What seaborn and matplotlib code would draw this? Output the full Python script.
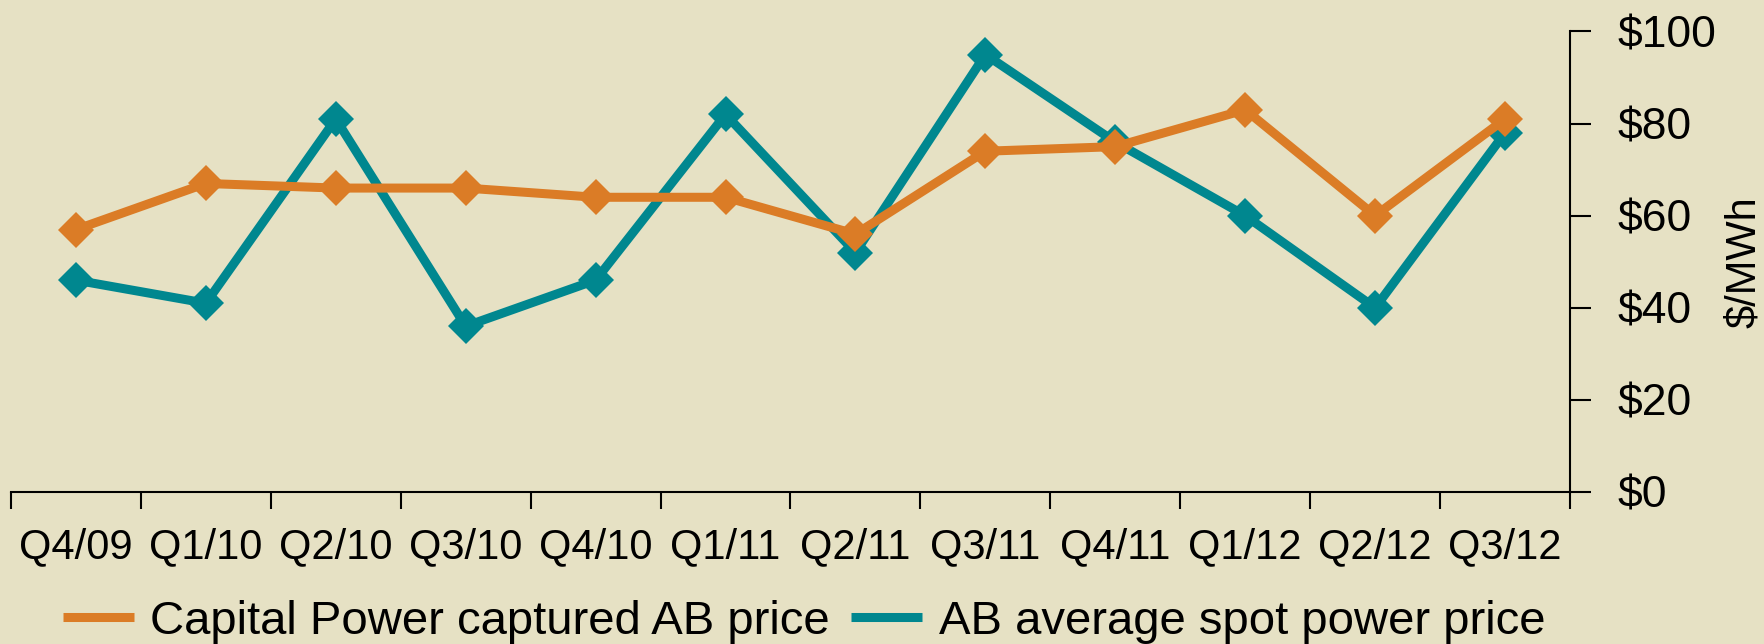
import pandas as pd
import numpy as np
import matplotlib
matplotlib.use("Agg")
import matplotlib.pyplot as plt
from matplotlib.lines import Line2D
from matplotlib.ticker import FixedLocator, FuncFormatter
import seaborn as sns

# data ($/MWh)
quarters = ["Q4/09", "Q1/10", "Q2/10", "Q3/10", "Q4/10", "Q1/11",
            "Q2/11", "Q3/11", "Q4/11", "Q1/12", "Q2/12", "Q3/12"]
captured_price = [57, 67, 66, 66, 64, 64, 56, 74, 75, 83, 60, 81]
spot_price = [46, 41, 81, 36, 46, 82, 52, 95, 76, 60, 40, 78]
series_names = ["Capital Power captured AB price", "AB average spot power price"]
y_ticks = [0, 20, 40, 60, 80, 100]

bg = "#E6E1C4"
orange = "#DB7C26"
teal = "#00878F"

sns.set_style("white")
plt.rcParams["font.family"] = ["Liberation Sans", "DejaVu Sans"]
plt.rcParams["text.color"] = "black"
plt.rcParams["xtick.color"] = "black"
plt.rcParams["ytick.color"] = "black"
plt.rcParams["axes.labelcolor"] = "black"

df = pd.DataFrame({
    "quarter": quarters * 2,
    "price": captured_price + spot_price,
    "series": [series_names[0]] * len(quarters) + [series_names[1]] * len(quarters),
})

fig = plt.figure(figsize=(17.65, 6.44), dpi=100, facecolor=bg)
ax = fig.add_axes([11 / 1765, 1 - 492 / 644, (1570 - 11) / 1765, (492 - 31.5) / 644])
ax.set_facecolor(bg)

# teal first so the orange line sits on top
sns.lineplot(data=df, x="quarter", y="price", hue="series",
             hue_order=[series_names[1], series_names[0]],
             palette={series_names[0]: orange, series_names[1]: teal},
             marker="D", markersize=18, markeredgewidth=0,
             linewidth=6.5, sort=False, legend=False, ax=ax)

ax.set_xlim(-0.5, len(quarters) - 0.5)
ax.set_ylim(0, 100)

# x axis: boundary ticks, labels centred on categories
ax.xaxis.set_major_locator(FixedLocator(np.arange(-0.5, len(quarters), 1.0)))
ax.xaxis.set_major_formatter(FuncFormatter(lambda v, p: ""))
ax.set_xticks(np.arange(len(quarters)), labels=quarters, minor=True)
ax.tick_params(axis="x", which="major", direction="out", length=12, width=1.5,
               color="black", bottom=True)
ax.tick_params(axis="x", which="minor", length=0, pad=25, labelsize=30)

# y axis on the right
ax.yaxis.tick_right()
ax.yaxis.set_label_position("right")
ax.set_yticks(y_ticks, labels=[f"${v}" for v in y_ticks])
ax.tick_params(axis="y", direction="out", length=15, width=1.5, color="black",
               right=True, left=False, pad=19, labelsize=32)
ax.set_ylabel("$/MWh", fontsize=30, labelpad=6)
ax.set_xlabel("")

for side in ["top", "left"]:
    ax.spines[side].set_visible(False)
for side in ["bottom", "right"]:
    ax.spines[side].set_color("black")
    ax.spines[side].set_linewidth(1.5)

handles = [Line2D([0], [0], color=orange, lw=6.5, solid_capstyle="butt"),
           Line2D([0], [0], color=teal, lw=6.5, solid_capstyle="butt")]
fig.legend(handles, series_names, loc="center", bbox_to_anchor=(804 / 1765, 1 - 622 / 644),
           ncol=2, frameon=False, fontsize=34, handlelength=1.5,
           handletextpad=0.35, columnspacing=0.45, borderaxespad=0, borderpad=0)

fig.savefig("out.png", dpi=100, facecolor=bg)
